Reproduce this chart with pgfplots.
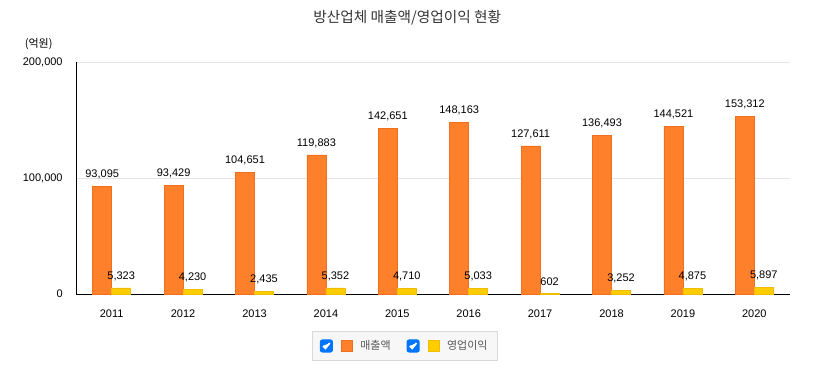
\documentclass[border=0pt]{standalone}
\usepackage{fontspec}
\setmainfont{Liberation Sans}
\newfontfamily\kr{Noto Sans CJK KR}
\usepackage{pgfplots}
\pgfplotsset{compat=1.18}
\definecolor{barO}{RGB}{255,128,42}
\definecolor{barOd}{RGB}{240,110,30}
\definecolor{barY}{RGB}{255,204,0}
\definecolor{barYd}{RGB}{240,190,0}
\definecolor{chk}{RGB}{0,117,255}
\definecolor{txt}{RGB}{51,51,51}
\begin{document}
\begin{tikzpicture}
\useasboundingbox (0pt,0pt) rectangle (612.75pt,287.25pt);
\node[font=\kr\fontsize{11}{13}\selectfont, text=txt] at (305.5pt,273.75pt) {방산업체 매출액/영업이익 현황};
\node[font=\kr\fontsize{8.25}{10}\selectfont, text=black] at (29pt,254.25pt) {(억원)};
\begin{axis}[
 at={(57pt,66.75pt)}, anchor=south west,
 scale only axis, width=535.5pt, height=174pt,
 ybar=0pt, bar width=14.25pt,
 xmin=-0.5, xmax=9.5, ymin=0, ymax=200000,
 xtick={0,1,2,3,4,5,6,7,8,9},
 xticklabels={2011,2012,2013,2014,2015,2016,2017,2018,2019,2020},
 ytick={0,100000,200000},
 scaled y ticks=false,
 axis x line*=bottom, axis y line*=left,
 axis line style={-, black, line width=0.75pt},
 major tick length=0pt,
 ymajorgrids, grid style={color=black!10, line width=0.6pt},
 tick label style={font=\fontsize{8.25}{10}\selectfont, text=black},
 yticklabel style={anchor=east, xshift=-6.5pt},
 xticklabel style={yshift=-8.5pt},
 /pgf/number format/fixed,
 /pgf/number format/1000 sep={,},
 /pgf/number format/assume math mode=true,
 nodes near coords,
 every node near coord/.append style={font=\fontsize{8.25}{10}\selectfont, text=black, yshift=2pt},
 legend style={at={(0.4608,-0.224)}, anchor=center, legend columns=2,
   fill=black!3, draw=black!15, line width=0.8pt,
   font=\kr\fontsize{8.25}{10}\selectfont, text=black!65,
   inner xsep=5.5pt, inner ysep=4.5pt,
   /tikz/every even column/.append style={column sep=10pt}},
]
\addplot[fill=barO, draw=barOd, legend image code/.code={
  \fill[chk, rounded corners=1.5pt] (0,-4.5pt) rectangle (9pt,4.5pt);
  \draw[white, line width=1.3pt] (2pt,0pt) -- (3.8pt,-1.8pt) -- (7pt,2.2pt);
  \fill[barO, draw=barOd] (15.75pt,-4pt) rectangle (24pt,4pt);
  \path (27.5pt,0pt);
}] coordinates {(0,93095) (1,93429) (2,104651) (3,119883) (4,142651) (5,148163) (6,127611) (7,136493) (8,144521) (9,153312)};
\addplot[fill=barY, draw=barYd, legend image code/.code={
  \fill[chk, rounded corners=1.5pt] (0,-4.5pt) rectangle (9pt,4.5pt);
  \draw[white, line width=1.3pt] (2pt,0pt) -- (3.8pt,-1.8pt) -- (7pt,2.2pt);
  \fill[barY, draw=barYd] (15.75pt,-4pt) rectangle (24pt,4pt);
  \path (27.5pt,0pt);
}] coordinates {(0,5323) (1,4230) (2,2435) (3,5352) (4,4710) (5,5033) (6,602) (7,3252) (8,4875) (9,5897)};
\legend{매출액, 영업이익}
\end{axis}
\end{tikzpicture}
\end{document}
